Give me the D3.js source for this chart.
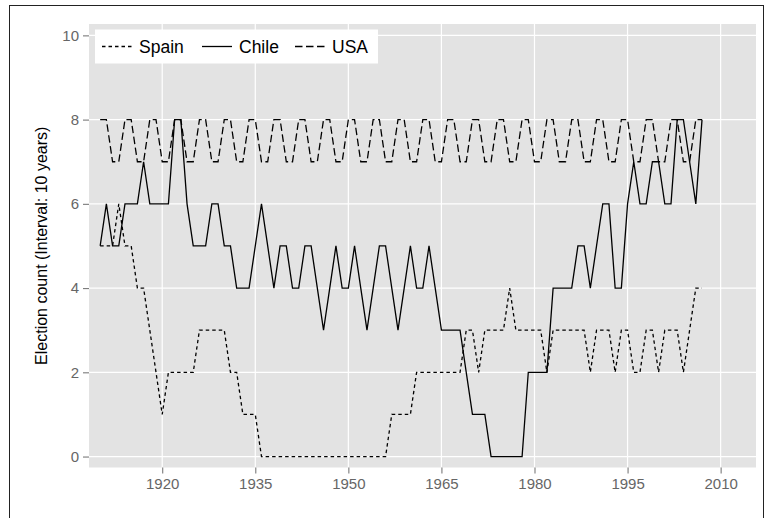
<!DOCTYPE html>
<html>
<head>
<meta charset="utf-8">
<script src="https://cdn.jsdelivr.net/npm/d3@7"></script>
<style>
  body { margin: 0; background: #fff; }
  #chart text { font-family: "Liberation Sans", Arial, sans-serif; }
</style>
</head>
<body>
<div id="chart"></div>
<script>
// years on the x axis
var years = [
  1910, 1911, 1912, 1913, 1914, 1915, 1916, 1917, 1918, 1919,
  1920, 1921, 1922, 1923, 1924, 1925, 1926, 1927, 1928, 1929,
  1930, 1931, 1932, 1933, 1934, 1935, 1936, 1937, 1938, 1939,
  1940, 1941, 1942, 1943, 1944, 1945, 1946, 1947, 1948, 1949,
  1950, 1951, 1952, 1953, 1954, 1955, 1956, 1957, 1958, 1959,
  1960, 1961, 1962, 1963, 1964, 1965, 1966, 1967, 1968, 1969,
  1970, 1971, 1972, 1973, 1974, 1975, 1976, 1977, 1978, 1979,
  1980, 1981, 1982, 1983, 1984, 1985, 1986, 1987, 1988, 1989,
  1990, 1991, 1992, 1993, 1994, 1995, 1996, 1997, 1998, 1999,
  2000, 2001, 2002, 2003, 2004, 2005, 2006, 2007];

// election counts in a 10 year window, one per year
var spainCounts = [
  5, 5, 5, 6, 5, 5, 4, 4, 3, 2,
  1, 2, 2, 2, 2, 2, 3, 3, 3, 3,
  3, 2, 2, 1, 1, 1, 0, 0, 0, 0,
  0, 0, 0, 0, 0, 0, 0, 0, 0, 0,
  0, 0, 0, 0, 0, 0, 0, 1, 1, 1,
  1, 2, 2, 2, 2, 2, 2, 2, 2, 3,
  3, 2, 3, 3, 3, 3, 4, 3, 3, 3,
  3, 3, 2, 3, 3, 3, 3, 3, 3, 2,
  3, 3, 3, 2, 3, 3, 2, 2, 3, 3,
  2, 3, 3, 3, 2, 3, 4, 4];

var chileCounts = [
  5, 6, 5, 5, 6, 6, 6, 7, 6, 6,
  6, 6, 8, 8, 6, 5, 5, 5, 6, 6,
  5, 5, 4, 4, 4, 5, 6, 5, 4, 5,
  5, 4, 4, 5, 5, 4, 3, 4, 5, 4,
  4, 5, 4, 3, 4, 5, 5, 4, 3, 4,
  5, 4, 4, 5, 4, 3, 3, 3, 3, 2,
  1, 1, 1, 0, 0, 0, 0, 0, 0, 2,
  2, 2, 2, 4, 4, 4, 4, 5, 5, 4,
  5, 6, 6, 4, 4, 6, 7, 6, 6, 7,
  7, 6, 6, 8, 8, 7, 6, 8];

var usaCounts = [
  8, 8, 7, 7, 8, 8, 7, 7, 8, 8,
  7, 7, 8, 8, 7, 7, 8, 8, 7, 7,
  8, 8, 7, 7, 8, 8, 7, 7, 8, 8,
  7, 7, 8, 8, 7, 7, 8, 8, 7, 7,
  8, 8, 7, 7, 8, 8, 7, 7, 8, 8,
  7, 7, 8, 8, 7, 7, 8, 8, 7, 7,
  8, 8, 7, 7, 8, 8, 7, 7, 8, 8,
  7, 7, 8, 8, 7, 7, 8, 8, 7, 7,
  8, 8, 7, 7, 8, 8, 7, 7, 8, 8,
  7, 7, 8, 8, 7, 7, 8, 8];

var countryNames = ["Spain", "Chile", "USA"];
var xTicks = [1920, 1935, 1950, 1965, 1980, 1995, 2010];
var yTicks = [0, 2, 4, 6, 8, 10];
var yTitle = "Election count (Interval: 10 years)";

// line style per country
var dashes = {"Spain": "3.5,3", "Chile": null, "USA": "7.5,3.5"};

function drawChart() {
  var width = 769, height = 518;
  var panel = {left: 89, right: 756, top: 24, bottom: 467.5};

  var svg = d3.select("#chart").append("svg")
      .attr("width", width)
      .attr("height", height);

  // outer frame
  svg.append("rect")
      .attr("x", 9.5).attr("y", 5.5)
      .attr("width", 754).attr("height", 540)
      .style("fill", "none")
      .style("stroke", "#222")
      .style("stroke-width", 1);

  var x = d3.scaleLinear()
      .domain([1908.2, 2015.7])
      .range([panel.left, panel.right]);
  var y = d3.scaleLinear()
      .domain([-0.26, 10.27])
      .range([panel.bottom, panel.top]);

  // grey panel
  svg.append("rect")
      .attr("x", panel.left).attr("y", panel.top)
      .attr("width", panel.right - panel.left)
      .attr("height", panel.bottom - panel.top)
      .style("fill", "#e3e3e3");

  // grid lines
  svg.append("g").selectAll("line")
      .data(xTicks)
      .enter().append("line")
      .attr("x1", function(d) { return x(d); })
      .attr("x2", function(d) { return x(d); })
      .attr("y1", panel.top).attr("y2", panel.bottom)
      .style("stroke", "#fff").style("stroke-width", 1.2);
  svg.append("g").selectAll("line")
      .data(yTicks)
      .enter().append("line")
      .attr("y1", function(d) { return y(d); })
      .attr("y2", function(d) { return y(d); })
      .attr("x1", panel.left).attr("x2", panel.right)
      .style("stroke", "#fff").style("stroke-width", 1.2);

  // axes
  var xAxis = svg.append("g")
      .attr("transform", "translate(0," + panel.bottom + ")")
      .call(d3.axisBottom(x).tickValues(xTicks).tickFormat(d3.format("d"))
        .tickSize(6).tickPadding(5));
  var yAxis = svg.append("g")
      .attr("transform", "translate(" + panel.left + ",0)")
      .call(d3.axisLeft(y).tickValues(yTicks).tickSize(6).tickPadding(4));

  [xAxis, yAxis].forEach(function(ax) {
    ax.select(".domain").remove();
    ax.selectAll("line").style("stroke", "#7a7a7a").style("stroke-width", 1.1);
    ax.selectAll("text")
        .style("font-size", "15px")
        .style("fill", "#666");
  });

  // y axis title
  svg.append("text")
      .attr("transform", "translate(47," + ((panel.top + panel.bottom) / 2) + ") rotate(-90)")
      .attr("text-anchor", "middle")
      .style("font-size", "16px")
      .style("fill", "#000")
      .text(yTitle);

  var series = [
    {name: "Spain", values: spainCounts},
    {name: "Chile", values: chileCounts},
    {name: "USA", values: usaCounts}
  ];

  var line = d3.line()
      .x(function(d, i) { return x(years[i]); })
      .y(function(d) { return y(d); });

  svg.append("g").selectAll("path")
      .data(series)
      .enter().append("path")
      .attr("d", function(d) { return line(d.values); })
      .style("fill", "none")
      .style("stroke", "#000")
      .style("stroke-width", 1.3)
      .style("stroke-dasharray", function(d) { return dashes[d.name]; });

  // legend box in the top left of the panel
  var legend = svg.append("g").attr("transform", "translate(95,29.5)");
  legend.append("rect")
      .attr("width", 283).attr("height", 34)
      .style("fill", "#fff");

  var keyX = [7, 107, 200];
  var item = legend.selectAll(".item")
      .data(countryNames)
      .enter().append("g")
      .attr("class", "item")
      .attr("transform", function(d, i) { return "translate(" + keyX[i] + ",17)"; });

  item.append("line")
      .attr("x1", 0).attr("x2", 30)
      .style("stroke", "#000")
      .style("stroke-width", 1.3)
      .style("stroke-dasharray", function(d) { return dashes[d]; });

  item.append("text")
      .attr("x", 37)
      .attr("dy", "0.36em")
      .style("font-size", "17.5px")
      .style("fill", "#000")
      .text(function(d) { return d; });
}

drawChart();
</script>
</body>
</html>
